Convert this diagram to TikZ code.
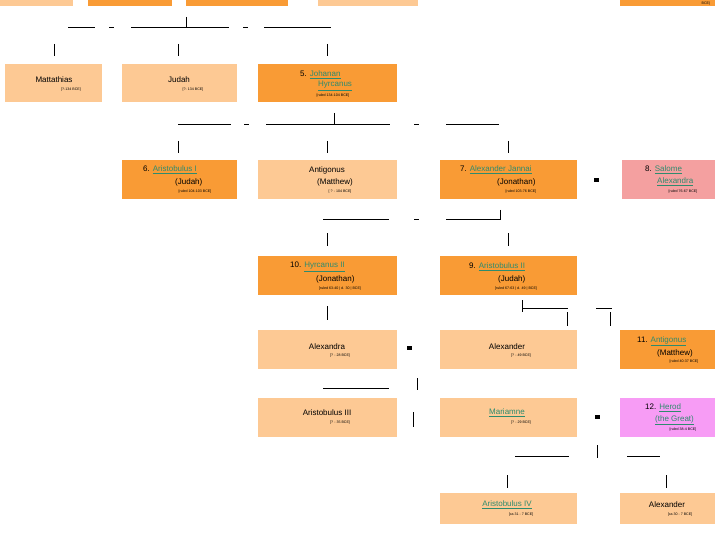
\documentclass[tikz,border=0pt]{standalone}
\usepackage{fontspec}
\setmainfont{Liberation Sans}
\definecolor{lt}{HTML}{FDC994}
\definecolor{dk}{HTML}{F99B35}
\definecolor{pk}{HTML}{F4A0A0}
\definecolor{mg}{HTML}{F79CF5}
\definecolor{lk}{HTML}{2E8B6E}
\begin{document}
\begin{tikzpicture}[x=1pt,y=-1pt,
  bx/.style={inner sep=0pt,anchor=north west},
  nm/.style={inner sep=0pt,font=\fontsize{8}{9}\selectfont},
  sm/.style={inner sep=0pt,font=\fontsize{3.6}{4}\selectfont},
  ln/.style={line width=0.7pt},
  sq/.style={fill=black,inner sep=0pt,minimum width=5pt,minimum height=4pt}]
\newcommand{\lnk}[1]{\textcolor{lk}{\underline{#1}}}
\newcommand{\bx}[6]{\fill[#6] (#2,#3) rectangle (#4,#5) coordinate (#1);}
\useasboundingbox[fill=white] (0,0) rectangle (720,540);
% top partial row
\bx{a0}{0}{0}{73}{6}{lt}
\bx{a1}{88}{0}{172}{6}{dk}
\bx{a2}{186}{0}{288}{6}{dk}
\bx{a3}{318}{0}{418}{6}{lt}
\bx{a4}{620}{0}{715}{6}{dk}
\node[sm,anchor=south] (a4t) at (706,5) {BCE)};
% row 1
\bx{b1}{5}{64}{102}{102}{lt}
\bx{b2}{122}{64}{237}{102}{lt}
\bx{b3}{258}{64}{397}{102}{dk}
% row 2
\bx{c1}{122}{160}{237}{199}{dk}
\bx{c2}{258}{160}{397}{199}{lt}
\bx{c3}{440}{160}{577}{199}{dk}
\bx{c4}{622}{160}{715}{199}{pk}
% row 3
\bx{d1}{258}{256}{397}{295}{dk}
\bx{d2}{440}{256}{577}{295}{dk}
% row 4
\bx{e1}{258}{330}{397}{369}{lt}
\bx{e2}{440}{330}{577}{369}{lt}
\bx{e3}{620}{330}{715}{369}{dk}
% row 5
\bx{f1}{258}{398}{397}{437}{lt}
\bx{f2}{440}{398}{577}{437}{lt}
\bx{f3}{620}{398}{715}{437}{mg}
% row 6
\bx{g1}{440}{493}{577}{524}{lt}
\bx{g2}{620}{493}{715}{524}{lt}
% texts
\node[nm] (t1) at (54,80) {Mattathias};
\node[sm] (t1s) at (71,90) {[?-134 BCE]};
\node[nm] (t2) at (179,80) {Judah};
\node[sm] (t2s) at (193,90) {[?- 134 BCE]};
\node[nm,anchor=west] (t3) at (300,75) {5. \lnk{Johanan}};
\node[nm,anchor=west] (t3b) at (318,86) {\lnk{Hyrcanus}};
\node[sm] (t3s) at (333,96) {[ruled 134-104 BCE]};
\node[nm,anchor=west] (t4) at (143,170) {6. \lnk{Aristobulus I}};
\node[nm,anchor=west] (t4b) at (175,182) {(Judah)};
\node[sm] (t4s) at (195,192) {[ruled 104-103 BCE]};
\node[nm] (t5) at (327,170) {Antigonus};
\node[nm,anchor=west] (t5b) at (317,182) {(Matthew)};
\node[sm] (t5s) at (340,192) {[ ? - 104 BCE]};
\node[nm,anchor=west] (t6) at (460,170) {7. \lnk{Alexander Jannai}};
\node[nm,anchor=west] (t6b) at (497,182) {(Jonathan)};
\node[sm] (t6s) at (521,192) {[ruled 103-76 BCE]};
\node[nm,anchor=west] (t7) at (645,170) {8. \lnk{Salome}};
\node[nm,anchor=west] (t7b) at (657,182) {\lnk{Alexandra}};
\node[sm] (t7s) at (683,192) {[ruled 76-67 BCE]};
\node[nm,anchor=west] (t8) at (290,267) {10. \lnk{Hyrcanus II}};
\node[nm,anchor=west] (t8b) at (316,279) {(Jonathan)};
\node[sm] (t8s) at (340,289) {[ruled 63-40 | d. 30 | BCE]};
\node[nm,anchor=west] (t9) at (469,267) {9. \lnk{Aristobulus II}};
\node[nm,anchor=west] (t9b) at (498,279) {(Judah)};
\node[sm] (t9s) at (516,289) {[ruled 67-63 | d. 49 | BCE]};
\node[nm] (t10) at (327,347) {Alexandra};
\node[sm] (t10s) at (340,356) {[? - 28 BCE]};
\node[nm] (t11) at (507,347) {Alexander};
\node[sm] (t11s) at (521,356) {[? - 49 BCE]};
\node[nm,anchor=west] (t12) at (637,341) {11. \lnk{Antigonus}};
\node[nm,anchor=west] (t12b) at (657,353) {(Matthew)};
\node[sm] (t12s) at (684,362) {[ruled 40-37 BCE]};
\node[nm] (t13) at (327,413) {Aristobulus III};
\node[sm] (t13s) at (340,423) {[? - 35 BCE]};
\node[nm] (t14) at (507,413) {\lnk{Mariamne}};
\node[sm] (t14s) at (521,423) {[? - 29 BCE]};
\node[nm,anchor=west] (t15) at (645,408) {12. \lnk{Herod}};
\node[nm,anchor=west] (t15b) at (655,420) {\lnk{(the Great)}};
\node[sm] (t15s) at (683,430) {[ruled 38-4 BCE]};
\node[nm] (t16) at (507,505) {\lnk{Aristobulus IV}};
\node[sm] (t16s) at (521,515) {[ca 31 - 7 BCE]};
\node[nm] (t17) at (667,505) {Alexander};
\node[sm] (t17s) at (680,515) {[ca 30 - 7 BCE]};
% marriage squares
\node[sq] (m1) at (596,180) {};
\node[sq] (m2) at (409,348) {};
\node[sq] (m3) at (597,417) {};
% connector lines
\begin{scope}[ln]
\draw (68,27)--(95,27) (109,27)--(114,27) (131,27)--(229,27) (186,17)--(186,27)
      (243,27)--(248,27) (264,27)--(331,27);
\draw (54,44)--(54,56) (178,44)--(178,56) (327,44)--(327,56);
\draw (178,124)--(231,124) (244,124)--(249,124) (266,124)--(390,124) (334,113)--(334,124)
      (414,124)--(419,124) (446,124)--(499,124);
\draw (178,141)--(178,153) (327,141)--(327,153) (508,141)--(508,153);
\draw (323,219)--(389,219) (414,219)--(419,219) (446,219)--(500,219) (500,210)--(500,220);
\draw (327,233)--(327,246) (508,233)--(508,246);
\draw (522,300)--(522,312) (522,308)--(568,308) (596,308)--(612,308)
      (567,312)--(567,326) (610,312)--(610,326) (327,306)--(327,320);
\draw (323,388)--(389,388) (417,378)--(417,390) (413,412)--(413,427);
\draw (515,456)--(569,456) (597,445)--(597,458) (627,456)--(660,456);
\draw (507,475)--(507,488) (666,475)--(666,488);
\end{scope}
\end{tikzpicture}
\end{document}
